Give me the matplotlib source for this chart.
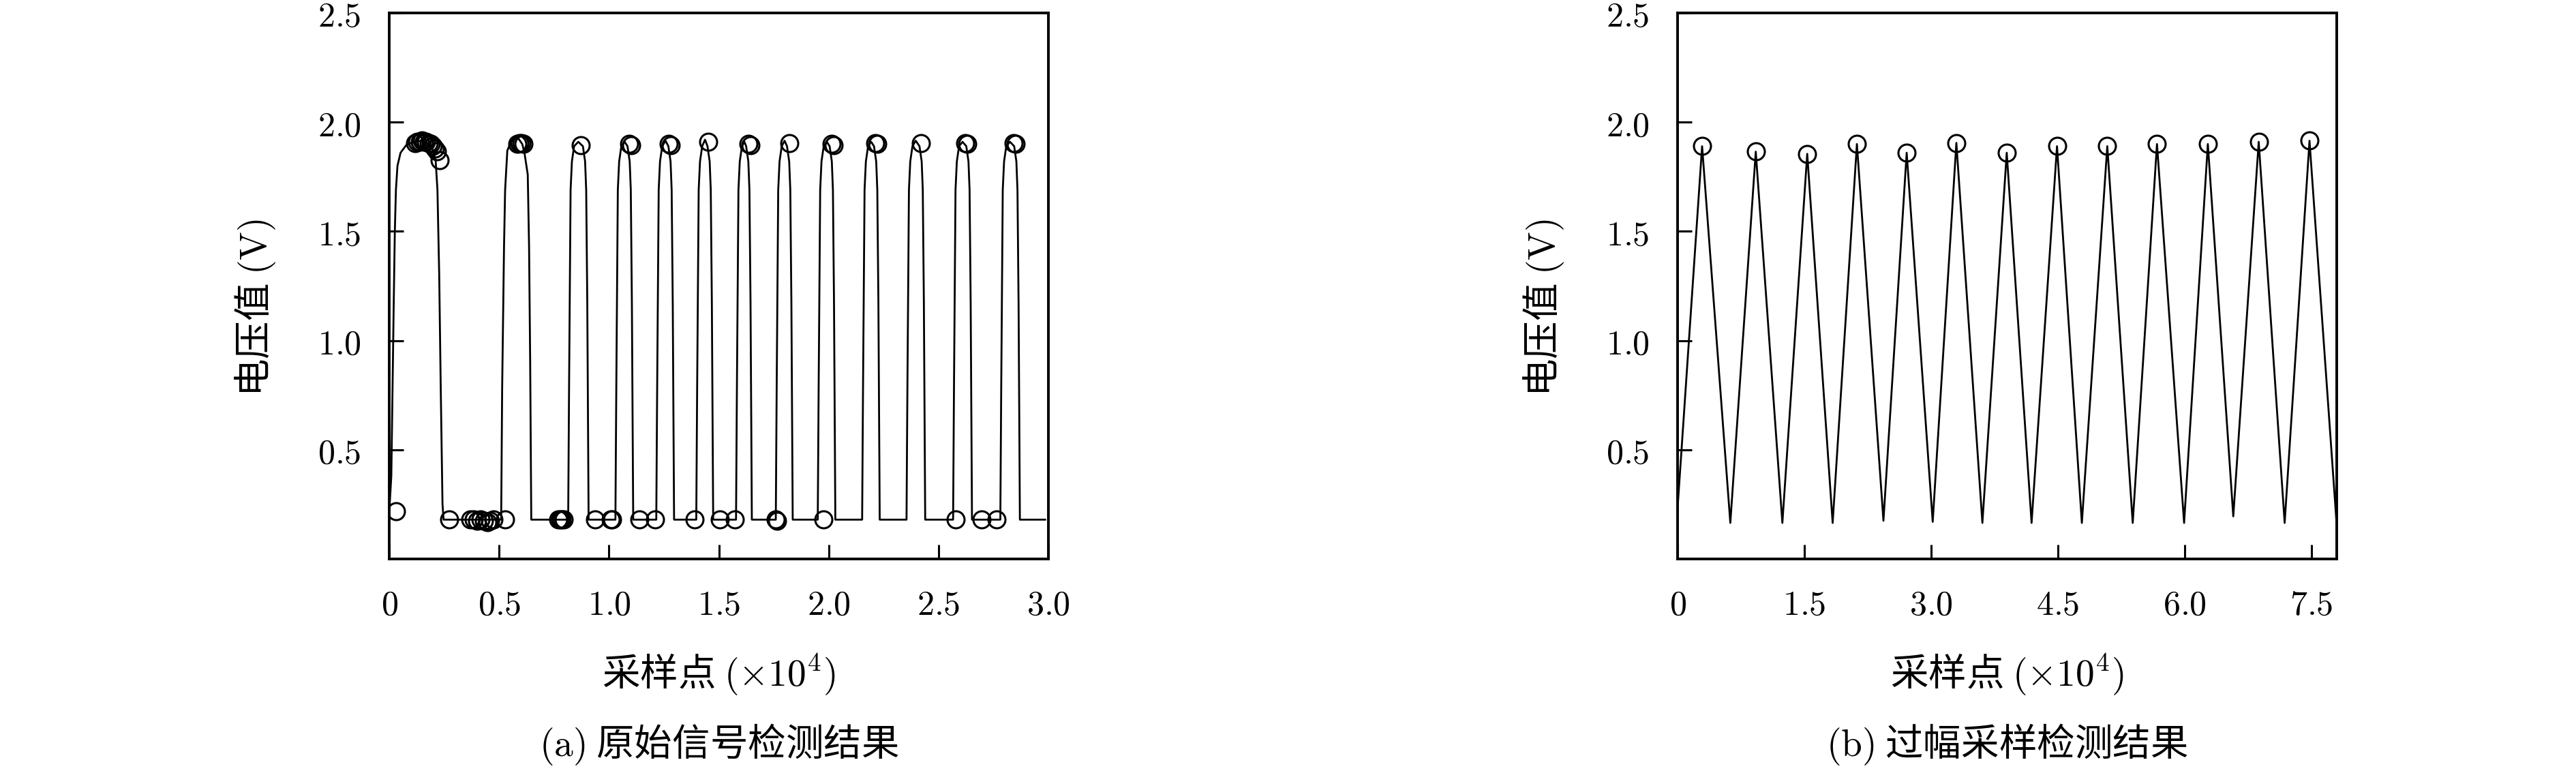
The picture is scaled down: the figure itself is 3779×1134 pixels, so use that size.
import matplotlib
matplotlib.use('Agg')
import matplotlib.pyplot as plt

plt.rcParams['font.family'] = ['Noto Sans CJK SC', 'DejaVu Sans']
plt.rcParams['mathtext.fontset'] = 'cm'

#%% (a) raw signal, x in units of 1e4 samples

sig_x = [0.000, 0.009, 0.020, 0.025, 0.030, 0.037, 0.051, 0.077, 0.110, 0.150, 0.180, 0.200, 0.211, 0.219, 0.227, 0.234, 0.242, 0.247,
         0.509, 0.5135, 0.522, 0.527, 0.537, 0.558, 0.584, 0.605, 0.615, 0.630, 0.636, 0.641, 0.646,
         0.814, 0.818, 0.825, 0.831, 0.841, 0.860, 0.881, 0.891, 0.896, 0.901, 0.907,
         1.029, 1.033, 1.040, 1.046, 1.056, 1.071, 1.084, 1.094, 1.099, 1.104, 1.110,
         1.215, 1.219, 1.226, 1.232, 1.242, 1.257, 1.270, 1.280, 1.285, 1.290, 1.296,
         1.397, 1.401, 1.408, 1.414, 1.424, 1.437, 1.448, 1.458, 1.463, 1.468, 1.474,
         1.578, 1.582, 1.589, 1.595, 1.605, 1.616, 1.624, 1.634, 1.639, 1.644, 1.650,
         1.759, 1.763, 1.770, 1.776, 1.786, 1.799, 1.810, 1.820, 1.825, 1.830, 1.836,
         1.950, 1.954, 1.961, 1.967, 1.977, 1.991, 2.004, 2.014, 2.019, 2.024, 2.030,
         2.152, 2.156, 2.163, 2.169, 2.179, 2.193, 2.206, 2.216, 2.221, 2.226, 2.232,
         2.354, 2.358, 2.365, 2.371, 2.381, 2.396, 2.413, 2.423, 2.428, 2.433, 2.439,
         2.566, 2.570, 2.577, 2.583, 2.593, 2.609, 2.626, 2.636, 2.641, 2.646, 2.652,
         2.781, 2.785, 2.792, 2.798, 2.808, 2.825, 2.844, 2.854, 2.859, 2.864, 2.870,
         2.985]
sig_y = [0.22, 0.38, 1.17, 1.50, 1.69, 1.80, 1.86, 1.895, 1.91, 1.915, 1.90, 1.87, 1.82, 1.69, 1.30, 0.78, 0.25, 0.18,
         0.18, 0.78, 1.43, 1.69, 1.87, 1.92, 1.93, 1.90, 1.86, 1.76, 1.43, 0.91, 0.18,
         0.18, 0.78, 1.69, 1.82, 1.89, 1.91, 1.89, 1.82, 1.69, 1.17, 0.18,
         0.18, 0.78, 1.69, 1.82, 1.89, 1.91, 1.89, 1.82, 1.69, 1.17, 0.18,
         0.18, 0.78, 1.69, 1.82, 1.89, 1.915, 1.89, 1.82, 1.69, 1.17, 0.18,
         0.18, 0.78, 1.69, 1.82, 1.89, 1.92, 1.89, 1.82, 1.69, 1.17, 0.18,
         0.18, 0.78, 1.69, 1.82, 1.89, 1.91, 1.89, 1.82, 1.69, 1.17, 0.18,
         0.18, 0.78, 1.69, 1.82, 1.89, 1.915, 1.89, 1.82, 1.69, 1.17, 0.18,
         0.18, 0.78, 1.69, 1.82, 1.89, 1.91, 1.89, 1.82, 1.69, 1.17, 0.18,
         0.18, 0.78, 1.69, 1.82, 1.89, 1.91, 1.89, 1.82, 1.69, 1.17, 0.18,
         0.18, 0.78, 1.69, 1.82, 1.89, 1.915, 1.89, 1.82, 1.69, 1.17, 0.18,
         0.18, 0.78, 1.69, 1.82, 1.89, 1.91, 1.89, 1.82, 1.69, 1.17, 0.18,
         0.18, 0.78, 1.69, 1.82, 1.89, 1.91, 1.89, 1.82, 1.69, 1.17, 0.18,
         0.18]

# detected points on the high level
hi_x = [0.118, 0.128, 0.138, 0.148, 0.158, 0.168, 0.178, 0.188, 0.198, 0.208, 0.216, 0.230,
        0.582, 0.592, 0.600, 0.610,
        0.872, 1.092, 1.100, 1.272, 1.280, 1.453, 1.636, 1.645, 1.821,
        2.014, 2.022, 2.212, 2.222, 2.421, 2.622, 2.632, 2.842, 2.850]
hi_y = [1.905, 1.91, 1.91, 1.915, 1.91, 1.91, 1.905, 1.90, 1.89, 1.88, 1.865, 1.825,
        1.90, 1.905, 1.905, 1.90,
        1.895, 1.90, 1.895, 1.90, 1.895, 1.91, 1.90, 1.895, 1.905,
        1.90, 1.895, 1.905, 1.90, 1.905, 1.905, 1.90, 1.905, 1.90]

# detected points on the low level
lo_x = [0.030, 0.273, 0.370, 0.385, 0.400, 0.415, 0.430, 0.445, 0.460, 0.475, 0.527,
        0.770, 0.778, 0.786, 0.794, 0.936, 1.008, 1.015, 1.138, 1.210, 1.391,
        1.505, 1.572, 1.759, 1.765, 1.976, 2.577, 2.696, 2.763]
lo_y = [0.22, 0.18, 0.18, 0.18, 0.175, 0.18, 0.175, 0.17, 0.175, 0.18, 0.18,
        0.18, 0.18, 0.18, 0.18, 0.18, 0.18, 0.18, 0.18, 0.18, 0.18,
        0.18, 0.18, 0.18, 0.175, 0.18, 0.18, 0.18, 0.18]

#%% (b) over-amplitude sampling, triangle wave

tri_x = [0.0, 0.289, 0.623, 0.924, 1.239, 1.533, 1.834, 2.121, 2.435, 2.710, 3.018, 3.298, 3.606, 3.894,
         4.188, 4.489, 4.783, 5.084, 5.385, 5.672, 5.993, 6.274, 6.575, 6.876, 7.183, 7.477, 7.798]
tri_y = [0.24, 1.89, 0.165, 1.865, 0.165, 1.855, 0.165, 1.90, 0.175, 1.86, 0.17, 1.905, 0.165, 1.86,
         0.165, 1.89, 0.165, 1.89, 0.165, 1.90, 0.165, 1.90, 0.195, 1.91, 0.165, 1.915, 0.16]

y_ticks = [0.5, 1.0, 1.5, 2.0, 2.5]
xa_ticks = [0, 0.5, 1.0, 1.5, 2.0, 2.5, 3.0]
xb_ticks = [0, 1.5, 3.0, 4.5, 6.0, 7.5]

ylabel = '电压值 $(\\mathrm{V})$'
xlabel = '采样点 $(\\times 10^4)$'
captions = ['$(\\mathrm{a})$ 原始信号检测结果', '$(\\mathrm{b})$ 过幅采样检测结果']

#%% plotting

def tick_text(v):
    return '$0$' if v == 0 else '$%.1f$' % v

fig = plt.figure(figsize=(37.8, 11.34), dpi=100)
ax_a = fig.add_axes([0.1511, 0.2769, 0.2558, 0.7063])
ax_b = fig.add_axes([0.6511, 0.2769, 0.2558, 0.7063])

ax_a.plot(sig_x, sig_y, color='k', lw=2.0)
ax_a.plot(hi_x, hi_y, 'o', mfc='none', mec='k', ms=18, mew=2.2)
ax_a.plot(lo_x, lo_y, 'o', mfc='none', mec='k', ms=18, mew=2.2)

ax_b.plot(tri_x, tri_y, color='k', lw=2.0)
ax_b.plot(tri_x[1::2], tri_y[1::2], 'o', mfc='none', mec='k', ms=18, mew=2.2)

for ax, xt, xmax, cap in [(ax_a, xa_ticks, 3.0, captions[0]), (ax_b, xb_ticks, 7.8, captions[1])]:
    ax.set_xlim(0, xmax)
    ax.set_ylim(0, 2.5)
    ax.set_xticks(xt, [tick_text(v) for v in xt])
    ax.set_yticks(y_ticks, [tick_text(v) for v in y_ticks])
    ax.tick_params(direction='in', length=15, width=2.2, labelsize=36, pad=30)
    for s in ax.spines.values():
        s.set_linewidth(2.8)
    ax.set_ylabel(ylabel, fontsize=40)
    ax.yaxis.set_label_coords(-0.17, 0.46)
    ax.set_xlabel(xlabel, fontsize=40)
    ax.xaxis.set_label_coords(0.5, -0.17)
    pos = ax.get_position()
    fig.text((pos.x0 + pos.x1) / 2, 1 - 1092 / 1134, cap, fontsize=40, ha='center', va='center')

fig.savefig('out.png', dpi=100, facecolor='white')
